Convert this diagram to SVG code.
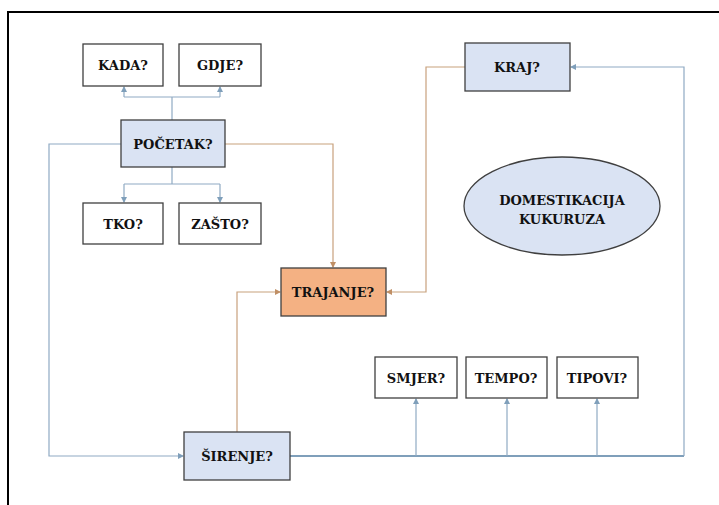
<svg xmlns="http://www.w3.org/2000/svg" width="719" height="505" viewBox="0 0 719 505">
  <style>
    .box { fill: #ffffff; stroke: #3f3f3f; stroke-width: 1.3; }
    .blue { fill: #dae3f3; stroke: #3f3f3f; stroke-width: 1.3; }
    .orange { fill: #f4b183; stroke: #3f3f3f; stroke-width: 1.3; }
    .lbl { font-family: "DejaVu Serif", "Liberation Serif", serif; font-weight: bold; font-size: 13px; fill: #111111; text-anchor: middle; dominant-baseline: central; }
    .cb { fill: none; stroke: #8faac3; stroke-width: 1.2; }
    .co { fill: none; stroke: #c8a17d; stroke-width: 1.2; }
    .cbw { fill: none; stroke: #7f9fba; stroke-width: 1.8; }
  </style>
  <defs>
    <marker id="ab" markerWidth="6" markerHeight="6" refX="5" refY="3" orient="auto" markerUnits="userSpaceOnUse">
      <path d="M0,0 L6,3 L0,6 Z" fill="#7f9fba"/>
    </marker>
    <marker id="ao" markerWidth="6" markerHeight="6" refX="5" refY="3" orient="auto" markerUnits="userSpaceOnUse">
      <path d="M0,0 L6,3 L0,6 Z" fill="#c08f65"/>
    </marker>
  </defs>

  <rect x="0" y="0" width="719" height="505" fill="#ffffff"/>
  <!-- page frame -->
  <path d="M8,505 L8,12 L719,12" fill="none" stroke="#000000" stroke-width="2"/>

  <g id="connectors">
    <!-- POČETAK up to KADA / GDJE -->
    <path class="cb" d="M172,120 L172,97"/>
    <path class="cb" d="M124,97 L220,97"/>
    <path class="cb" d="M124,97 L124,87" marker-end="url(#ab)"/>
    <path class="cb" d="M220,97 L220,87" marker-end="url(#ab)"/>
    <!-- POČETAK down to TKO / ZAŠTO -->
    <path class="cb" d="M172,167 L172,184"/>
    <path class="cb" d="M124,184 L220,184"/>
    <path class="cb" d="M124,184 L124,202" marker-end="url(#ab)"/>
    <path class="cb" d="M220,184 L220,202" marker-end="url(#ab)"/>
    <!-- POČETAK to ŠIRENJE -->
    <path class="cb" d="M121,144 L49,144 L49,456 L183,456" marker-end="url(#ab)"/>
    <!-- POČETAK to TRAJANJE -->
    <path class="co" d="M225,144 L333,144 L333,267" marker-end="url(#ao)"/>
    <!-- ŠIRENJE to TRAJANJE -->
    <path class="co" d="M237,432 L237,292 L280,292" marker-end="url(#ao)"/>
    <!-- KRAJ to TRAJANJE -->
    <path class="co" d="M465,67 L426,67 L426,292 L387,292" marker-end="url(#ao)"/>
    <!-- ŠIRENJE to KRAJ and sub-questions -->
    <path class="cbw" d="M290,456 L684,456"/>
    <path class="cb" d="M684,456 L684,67 L571,67" marker-end="url(#ab)"/>
    <path class="cb" d="M416,456 L416,399" marker-end="url(#ab)"/>
    <path class="cb" d="M507,456 L507,399" marker-end="url(#ab)"/>
    <path class="cb" d="M597,456 L597,399" marker-end="url(#ab)"/>
  </g>

  <g id="kada"><rect class="box" x="83" y="44" width="80" height="42"/><text class="lbl" x="123" y="65">KADA?</text></g>
  <g id="gdje"><rect class="box" x="179" y="44" width="82" height="42"/><text class="lbl" x="220" y="65">GDJE?</text></g>
  <g id="pocetak"><rect class="blue" x="121" y="120" width="104" height="47"/><text class="lbl" x="173" y="144">POČETAK?</text></g>
  <g id="tko"><rect class="box" x="83" y="203" width="80" height="41"/><text class="lbl" x="123" y="224">TKO?</text></g>
  <g id="zasto"><rect class="box" x="179" y="203" width="82" height="41"/><text class="lbl" x="220" y="224">ZAŠTO?</text></g>
  <g id="kraj"><rect class="blue" x="465" y="43" width="105" height="48"/><text class="lbl" x="517" y="67">KRAJ?</text></g>
  <g id="domestikacija">
    <ellipse class="blue" cx="562" cy="206" rx="98" ry="49"/>
    <text class="lbl" x="562" y="200">DOMESTIKACIJA</text>
    <text class="lbl" x="562" y="219">KUKURUZA</text>
  </g>
  <g id="trajanje"><rect class="orange" x="281" y="268" width="105" height="48"/><text class="lbl" x="333" y="292">TRAJANJE?</text></g>
  <g id="smjer"><rect class="box" x="375" y="357" width="82" height="41"/><text class="lbl" x="416" y="378">SMJER?</text></g>
  <g id="tempo"><rect class="box" x="466" y="357" width="81" height="41"/><text class="lbl" x="506" y="378">TEMPO?</text></g>
  <g id="tipovi"><rect class="box" x="557" y="357" width="81" height="41"/><text class="lbl" x="597" y="378">TIPOVI?</text></g>
  <g id="sirenje"><rect class="blue" x="184" y="432" width="106" height="48"/><text class="lbl" x="237" y="456">ŠIRENJE?</text></g>
</svg>
